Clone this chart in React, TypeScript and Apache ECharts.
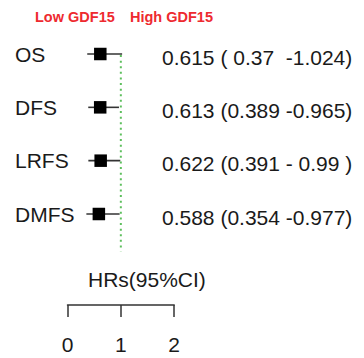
import React, { useEffect, useRef } from "react";
import * as echarts from "echarts";

const rows = ["OS", "DFS", "LRFS", "DMFS"];
const hr = [0.615, 0.613, 0.622, 0.588];
const lower = [0.37, 0.389, 0.391, 0.354];
const upper = [1.024, 0.965, 0.99, 0.977];
const ciText = [
  "0.615 ( 0.37  -1.024)",
  "0.613 (0.389 -0.965)",
  "0.622 (0.391 - 0.99 )",
  "0.588 (0.354 -0.977)",
];
const xTicks = [0, 1, 2];
const refValue = 1;
const refSpan = [1.02, 4.7];
const legendLow = "Low GDF15";
const legendHigh = "High GDF15";
const axisTitle = "HRs(95%CI)";

const FONT = 'Arial, "Liberation Sans", sans-serif';
const TEXT = "#1a1a1a";
const RED = "#ee2a2f";

export default function App() {
  const ref = useRef<HTMLDivElement>(null);
  useEffect(() => {
    if (!ref.current) return;
    const chart = echarts.init(ref.current, undefined, { renderer: "svg" });
    chart.setOption({
      animation: false,
      backgroundColor: "#ffffff",
      grid: { left: 67.5, width: 106.67, top: 0.67, height: 266.67 },
      xAxis: {
        type: "value",
        position: "bottom",
        min: xTicks[0],
        max: xTicks[xTicks.length - 1],
        interval: 1,
        offset: 37.7,
        axisLine: { show: true, onZero: false, lineStyle: { color: "#333", width: 1.5 } },
        axisTick: { show: true, length: 12, lineStyle: { color: "#333", width: 1.5 } },
        splitLine: { show: false },
        axisLabel: { fontSize: 21, color: TEXT, fontFamily: FONT, margin: 29 },
      },
      yAxis: {
        type: "value",
        inverse: true,
        min: 0,
        max: rows.length + 1,
        interval: 1,
        axisLine: { show: false },
        axisTick: { show: false },
        splitLine: { show: false },
        axisLabel: {
          formatter: (v: number) => rows[v - 1] ?? "",
          align: "left",
          margin: 52.5,
          fontSize: 21,
          color: TEXT,
          fontFamily: FONT,
          padding: [5, 0, 0, 0],
        },
      },
      graphic: [
        {
          type: "text",
          x: 35,
          y: 17,
          style: { text: legendLow, fill: RED, fontSize: 14.5, fontWeight: "bold", fontFamily: FONT, verticalAlign: "middle" },
        },
        {
          type: "text",
          x: 130,
          y: 17,
          style: { text: legendHigh, fill: RED, fontSize: 14.5, fontWeight: "bold", fontFamily: FONT, verticalAlign: "middle" },
        },
        {
          type: "text",
          x: 88,
          y: 279,
          style: { text: axisTitle, fill: TEXT, fontSize: 21, fontFamily: FONT, verticalAlign: "middle" },
        },
      ],
      series: [
        {
          type: "line",
          data: refSpan.map((y) => [refValue, y]),
          symbol: "none",
          lineStyle: { color: "#5dbf5d", width: 2, type: [2, 3.6] },
          silent: true,
        },
        {
          type: "custom",
          data: rows.map((_, i) => [hr[i], lower[i], upper[i], i + 1]),
          renderItem: (params: any, api: any) => {
            const y = api.value(3);
            const p = api.coord([api.value(0), y]);
            const lo = api.coord([api.value(1), y]);
            const hi = api.coord([api.value(2), y]);
            const s = 12.5;
            return {
              type: "group",
              children: [
                {
                  type: "line",
                  shape: { x1: lo[0], y1: lo[1], x2: hi[0], y2: hi[1] },
                  style: { stroke: "#333", lineWidth: 1.6 },
                },
                {
                  type: "rect",
                  shape: { x: p[0] - s / 2, y: p[1] - s / 2, width: s, height: s },
                  style: { fill: "#000" },
                },
              ],
            };
          },
        },
        {
          type: "custom",
          data: rows.map((_, i) => [i + 1]),
          renderItem: (params: any, api: any) => {
            const p = api.coord([0, api.value(0)]);
            return {
              type: "text",
              x: 162,
              y: p[1] + 3,
              style: {
                text: ciText[params.dataIndex],
                fill: TEXT,
                fontSize: 21,
                fontFamily: FONT,
                verticalAlign: "middle",
              },
            };
          },
        },
      ],
    });
    return () => chart.dispose();
  }, []);
  return (
    <div
      ref={ref}
      style={{ position: "fixed", left: 0, top: 0, width: 364, height: 358 }}
    />
  );
}
